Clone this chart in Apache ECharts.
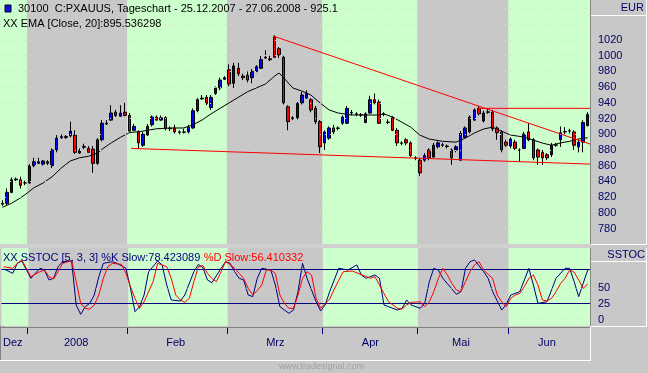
<!DOCTYPE html>
<html><head><meta charset="utf-8">
<script src="https://cdn.jsdelivr.net/npm/echarts@6/dist/echarts.min.js"></script>
<style>html,body{margin:0;padding:0;background:#c8c8c8}#c{width:648px;height:373px}</style>
</head><body><div id="c"></div>
<script>
const monthNames = ['Dez','2008','Feb','Mrz','Apr','Mai','Jun'];
const monthBars = [6,22,22,21,21,20,18];
const bandColors = ['#ccffcc','#c8c8c8','#ccffcc','#c8c8c8','#ccffcc','#c8c8c8','#ccffcc'];

const opens = [811,812,826,842,842,838,838,860,863,862,865,860,880,896,897,898,899,876,883.5,882,881,863,893,914,918,928,923,928,924,905,903,886,899,912,922,918,921,907,908,903,902.5,903,908,930,945,947,934,952,959,970,982,965,984,974,975,972,980,984,997,996,1024,1009,998,935,920,921,940,946,944,933,916,889,895,908,907.5,914,914,927,926,924.5,915,927,944,941,926,915.5,921,905,889,893,889,870,867,867,880,871,884,886,885,880,880,867,896,903,918,933,917,928,928,908,903,890,885,890,880,882,903,893,880,877,874,874,886,893,903,904,903,884,890,911];
const closes = [812,826,842,843,835,838,860,865,865,866,863,880,895,897,896,904,877,879,884.5,877,863,893,914,913,927,924,927,924,904,910,889,900,910,922,918,921,907,907.5,903,902.5,903,909,930,944,946,939,947,959,969,972,964,987,977,972,969,980,986,995,998,995,998,1001,940,916,921,939,950,952,931,916,884,903,908,903,908,922,933,927.5,925.5,925,926,944,940,914,925.5,915,905,889,888.5,889,873,869.5,851,873,870,886,889,886.5,884.5,870,884,901,908,922,931,926,927,928.5,907,902,880,886,894,882,879.5,900,893,870,871,870,870,886,886.5,902,903.5,904.5,886,890,915,925.1];
const lows = [809,810,825,839,831,835,837,858,862,860,861,857,877,894,894,896,875,875,881,876,851,861,891,912,917,922,922,923,903,904,881,884,898,910,917,917,905,904,901,900,901,901,907,928,944,937,931,950,956,969,961,959,974,969,966,965,979,983,996,993,997,997,938,905,918,919,938,945,928,913,876,880,893,900,905,912,913,924,923,922,914,926,938,913,923,913,904,885,886,886,871,867,847,865,867,870,882,884,882,861,877,866,895,901,917,924,915,926,904,893,877,884,882,880,865,881,891,867,861,861,867,871,884,884,900,901,880,877,877,910];
const highs = [816,831,845,845,846,841,862,870,870,867,867,882,899,900,899,916,905,882,888,885,885,895,918,918,937,931,937,940,927,913,905,903,913,924,924,924,923,910,912,905,907,912,933,946,950,950,950,961,972,974,989,991,991,977,980,983,988,1000,1007,1000,1026,1011,1000,937,923,941,954,956,946,936,918,905,910,912,910,924,936,931,928,927,928,949,952,944,928,919,923,908,891,895,891,872,870,876,882,889,891,889,887,882,886,904,910,924,933,936,930,933,931,910,905,893,896,893,882,903,914,895,882,880,876,889,889,910,909,907,905,893,918,928];

const emaPoints = [[0,807],[2,812],[4,819],[5,823],[7,832],[9,838],[11,846],[13,857],[15,866],[17,870],[19,872],[21,876],[22,881],[24,889],[26,896],[28,902],[31,904],[34,907],[37,908],[40,908],[42,912],[44,918],[46,926],[48,933],[50,940],[52,947],[54,954],[56,959],[58,964],[60,974],[61,978],[62,972],[64,959],[66,955],[68,950],[70,940],[72,931],[74,927],[77,924.5],[80,924.5],[83,924.5],[84,926],[86,922],[88,915.5],[90,909],[92,899],[94,894],[97,891],[100,890],[102,895],[104,901.5],[106,906.6],[108,909],[110,904],[112,899],[115,896.4],[117,892.6],[119,888.8],[121,886],[123,889],[125,891],[127,894],[129,895.5]];

const kPoints = [[0,80],[2,73.2],[3,89],[4,92.7],[6,65.3],[8,81.1],[9,78.4],[10,62.6],[11,65.3],[12,83.7],[13,91.6],[15,92.7],[16,23],[17,8.2],[18,20.3],[19,25.6],[20,38.8],[21,67.8],[22,89],[24,91.6],[25,89],[27,81.1],[28,49.4],[29,12.4],[30,20.3],[31,38.8],[32,75.8],[34,92.7],[35,86.4],[36,54.7],[37,30.9],[39,29.3],[40,38.8],[42,75.8],[43,87.4],[44,82.1],[45,62.6],[46,58.3],[48,81.1],[49,91.6],[50,89],[51,75.8],[52,65.3],[53,62.6],[54,38.8],[55,36.2],[56,65.3],[57,81.1],[59,78.4],[60,54.7],[61,20.3],[63,9.8],[64,15],[65,44.1],[66,89],[67,65.3],[69,28.2],[70,13.5],[71,23],[72,44.1],[74,81.1],[76,78.4],[78,86.4],[79,70.5],[80,65.3],[82,70.5],[83,65.3],[84,23],[85,20.3],[87,15],[88,17.7],[89,30.9],[90,23],[92,17.7],[93,25.6],[94,60],[95,81.1],[96,78.4],[97,65.3],[100,39.9],[101,44.1],[102,81.1],[103,91.6],[104,94.3],[106,75.8],[107,65.3],[108,44.1],[110,15],[111,24.1],[112,38.8],[114,44.1],[116,81.1],[117,54.7],[118,25.6],[120,28.2],[122,65.3],[124,81.1],[125,81.1],[126,60],[127,36.2],[128,57.3],[129,78.4]];

const dPoints = [[0,83.7],[2,81.1],[3,89],[4,94.3],[5,81.1],[6,67.8],[8,75.8],[9,78.4],[10,67.8],[11,64.2],[12,75.8],[13,89],[15,93.2],[16,60],[17,25.6],[18,17.7],[19,16.5],[20,23],[21,38.8],[22,65.3],[23,83.7],[24,89],[26,87.4],[27,73.2],[28,52],[29,33.5],[30,17.7],[31,28.2],[33,60],[34,89],[36,83.7],[37,65.3],[38,38.8],[39,31],[40,27.2],[41,33.5],[42,60],[43,83.7],[44,85.3],[45,73.2],[46,65],[47,60],[48,75.8],[49,91.6],[50,87],[51,81.1],[52,73.2],[53,65],[54,49.4],[55,38.8],[56,46],[57,54.7],[58,78.4],[59,78],[60,73.2],[61,38.8],[62,25.6],[63,17.7],[64,17.7],[65,38.8],[66,65],[67,75.8],[68,70.5],[69,33.5],[70,17.7],[71,25.6],[72,32],[73,48],[74,62],[75,75.8],[77,76.8],[81,65.3],[82,67.8],[83,54.7],[84,41],[85,28.2],[87,17.7],[88,16.6],[89,23],[90,27.2],[91,27.7],[92,28.2],[93,20.3],[94,28],[95,44.1],[96,65],[97,81.1],[98,70.5],[99,57],[100,46.8],[101,44.1],[102,60],[103,75.8],[104,86.4],[105,91.6],[106,78.4],[107,71.6],[108,65.3],[109,38.8],[110,28],[111,20.3],[112,33.5],[113,38.8],[114,41.4],[115,52],[116,65],[117,70.5],[118,54.7],[119,30.9],[120,29.3],[121,33.5],[122,44],[123,57],[124,65.3],[125,78.4],[126,75],[127,62.6],[128,49.4],[129,56.4]];

const priceTicks = [780,800,820,840,860,880,900,920,940,960,980,1000,1020];
const priceGrid = [780,800,820,840,860,880,900,920,940,960,980,1000,1020,1040,1060];
const stochTicks = [0,25,50];
const stochGrid = [0,50];
const stochLevels = [25,80];
const trendLines = [
  [[59.7,1025],[129.5,887.5]],
  [[104.8,933],[129.5,933]],
  [[28.4,882],[129.5,862]]
];

const FONT = '"Liberation Sans", Arial, sans-serif';
const N = opens.length;
const cats = [];
const monthEdges = [];
const labelAt = {};
const bands = [];
let acc = 0;
monthNames.forEach((name, m) => {
  if (acc > 0) monthEdges.push(acc - 0.5);
  labelAt[acc + Math.floor((monthBars[m] - 1) / 2)] = name;
  bands.push([{xAxis: acc - 0.5, itemStyle: {color: bandColors[m]}}, {xAxis: acc + monthBars[m] - 0.5}]);
  for (let k = 0; k < monthBars[m]; k++) cats.push(name + ' ' + (k + 1));
  acc += monthBars[m];
});
const labelPos = Object.keys(labelAt).map(Number);
const candleData = opens.map((o, i) => [o, closes[i], lows[i], highs[i]]);

const chart = echarts.init(document.getElementById('c'), null, {renderer: 'canvas'});
const line = (x1, y1, x2, y2, c) => ({type: 'line', z: 100, shape: {x1, y1, x2, y2}, style: {stroke: c, lineWidth: 1}, silent: true});
const txt = (x, y, t, c, size, align) => ({type: 'text', z: 101, x, y, silent: true,
  style: {text: t, fill: c, font: size + 'px ' + FONT, verticalAlign: 'middle', align: align || 'left'}});

const series = [
  {type: 'line', xAxisIndex: 2, yAxisIndex: 0, data: [], z: 0, silent: true,
   markArea: {silent: true, data: bands}},
  {type: 'line', xAxisIndex: 3, yAxisIndex: 1, data: [], z: 0, silent: true,
   markArea: {silent: true, data: bands}},
  {type: 'line', xAxisIndex: 2, yAxisIndex: 0, data: [], z: 1, silent: true,
   markLine: {silent: true, symbol: 'none', label: {show: false},
     lineStyle: {color: '#d6d6d6', type: [1, 4], width: 1},
     data: priceGrid.map(v => ({yAxis: v}))}},
  {type: 'line', xAxisIndex: 3, yAxisIndex: 1, data: [], z: 1, silent: true,
   markLine: {silent: true, symbol: 'none', label: {show: false},
     lineStyle: {color: '#d6d6d6', type: [1, 4], width: 1},
     data: stochGrid.map(v => ({yAxis: v}))}},
  {type: 'line', xAxisIndex: 3, yAxisIndex: 1, data: [], z: 2, silent: true,
   markLine: {silent: true, symbol: 'none', label: {show: false},
     lineStyle: {color: '#000080', type: 'solid', width: 1},
     data: stochLevels.map(v => ({yAxis: v}))}},
  {type: 'line', xAxisIndex: 4, yAxisIndex: 2, data: [], z: 2, silent: true,
   markLine: {silent: true, symbol: 'none', label: {show: false},
     lineStyle: {color: '#000080', type: 'solid', width: 1},
     data: monthEdges.map(v => ({xAxis: v}))}},
  {type: 'candlestick', xAxisIndex: 0, yAxisIndex: 0, data: candleData, barWidth: 3, z: 3,
   itemStyle: {color: '#0000ff', color0: '#ff0000', borderColor: '#000000', borderColor0: '#000000', borderColorDoji: '#000000', borderWidth: 1}},
  {type: 'line', xAxisIndex: 2, yAxisIndex: 0, data: emaPoints, symbol: 'none', z: 4,
   lineStyle: {color: '#000000', width: 1}},
  ...trendLines.map(t => ({type: 'line', xAxisIndex: 2, yAxisIndex: 0, data: t, symbol: 'none', z: 5,
   lineStyle: {color: '#ff0000', width: 1}})),
  {type: 'line', xAxisIndex: 3, yAxisIndex: 1, data: kPoints, symbol: 'none', z: 4,
   lineStyle: {color: '#000080', width: 1}},
  {type: 'line', xAxisIndex: 3, yAxisIndex: 1, data: dPoints, symbol: 'none', z: 5,
   lineStyle: {color: '#ff0000', width: 1}}
];

const yAxisCommon = (gi, min, max, ticks) => ({
  type: 'value', gridIndex: gi, position: 'right', offset: 3, min, max, scale: true,
  axisLine: {show: true, lineStyle: {color: '#000080', type: [1, 2], width: 1}},
  axisTick: {show: true, length: 3, customValues: ticks, lineStyle: {color: '#000080'}},
  axisLabel: {show: true, customValues: ticks, margin: 5, color: '#000066', fontSize: 11, fontFamily: FONT,
    formatter: (v) => String(v)},
  splitLine: {show: false}
});

chart.setOption({
  animation: false,
  backgroundColor: '#c8c8c8',
  grid: [
    {left: 0, top: 0, width: 590, height: 244},
    {left: 0, top: 248, width: 590, height: 78},
    {left: 0, top: 328, width: 590, height: 6}
  ],
  xAxis: [
    {type: 'category', gridIndex: 0, data: cats, boundaryGap: true, show: false},
    {type: 'category', gridIndex: 1, data: cats, boundaryGap: true, show: false, position: 'top'},
    {type: 'value', gridIndex: 0, min: -0.5, max: N - 0.5, show: false, position: 'top'},
    {type: 'value', gridIndex: 1, min: -0.5, max: N - 0.5, show: true, position: 'bottom', offset: 1,
     axisLine: {show: false}, axisTick: {show: false},
     axisLabel: {show: true, customValues: labelPos, formatter: (v) => labelAt[v] || '',
       margin: 10, color: '#000066', fontSize: 11, fontFamily: FONT},
     splitLine: {show: false}},
    {type: 'value', gridIndex: 2, min: -0.5, max: N - 0.5, show: false}
  ],
  yAxis: [
    yAxisCommon(0, 760.3, 1070.9, priceTicks),
    yAxisCommon(1, -10.3, 113.3, stochTicks),
    {type: 'value', gridIndex: 2, min: 0, max: 1, show: false}
  ],
  series,
  graphic: {elements: [
    {type: 'rect', z: 99, shape: {x: 0, y: 244, width: 590, height: 4}, style: {fill: '#d0d0d0'}, silent: true},
    {type: 'rect', z: 99, shape: {x: 591, y: 0, width: 56, height: 16}, style: {fill: '#c8c8c8'}, silent: true},
    {type: 'rect', z: 99, shape: {x: 591, y: 248, width: 56, height: 14}, style: {fill: '#c8c8c8'}, silent: true},
    line(590.5, 0, 590.5, 244, '#888888'),
    line(646.5, 0, 646.5, 245, '#ffffff'),
    line(591, 15.5, 647, 15.5, '#ffffff'),
    line(591, 244.5, 647, 244.5, '#ffffff'),
    line(590.5, 248, 590.5, 326, '#888888'),
    line(646.5, 248, 646.5, 327, '#ffffff'),
    line(591, 261.5, 647, 261.5, '#ffffff'),
    line(591, 326.5, 647, 326.5, '#ffffff'),
    line(0, 327.5, 590, 327.5, '#808080'),
    line(0.5, 326, 0.5, 360, '#808080'),
    line(0, 360.5, 591, 360.5, '#ffffff'),
    line(590.5, 327, 590.5, 361, '#ffffff'),
    {type: 'rect', z: 100, shape: {x: 5, y: 5, width: 6, height: 7}, style: {fill: '#1010d0', stroke: '#000040', lineWidth: 1}, silent: true},
    txt(18, 9, '30100  C:PXAUUS, Tageschart - 25.12.2007 - 27.06.2008 - 925.1', '#000000', 11),
    txt(3, 24, 'XX EMA [Close, 20]:895.536298', '#000000', 11),
    {type: 'text', z: 101, x: 3, y: 258, silent: true,
     style: {text: '{k|XX SSTOC [5, 3, 3] %K Slow:78.423089} {d|%D Slow:56.410332}', verticalAlign: 'middle',
       rich: {k: {fill: '#000080', fontSize: 11, fontFamily: FONT}, d: {fill: '#ff0000', fontSize: 11, fontFamily: FONT}}}},
    txt(644, 8, 'EUR', '#000066', 11, 'right'),
    txt(645, 255, 'SSTOC', '#000066', 11, 'right'),
    txt(279, 367, 'www.tradesignal.com', '#a0a0a0', 9)
  ]}
});
</script></body></html>
